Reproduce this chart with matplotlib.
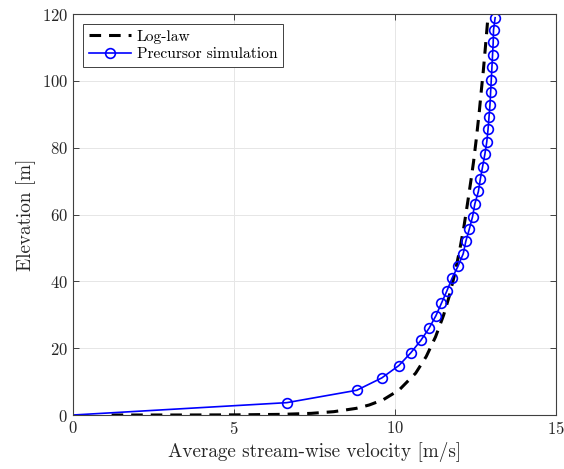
import matplotlib
matplotlib.use("Agg")
import matplotlib.pyplot as plt
import numpy as np

# precursor simulation profile
sim_z = [0.0, 3.7, 7.4, 11.1, 14.8, 18.6, 22.3, 26.0, 29.7, 33.4, 37.1,
         40.9, 44.6, 48.3, 52.0, 55.7, 59.4, 63.2, 66.9, 70.6, 74.3,
         78.0, 81.7, 85.5, 89.2, 92.9, 96.6, 100.3, 104.0, 107.8, 111.5,
         115.2, 118.9]
sim_u = [0.0, 6.64, 8.81, 9.59, 10.12, 10.49, 10.80, 11.06, 11.27, 11.44, 11.61,
         11.77, 11.96, 12.12, 12.20, 12.31, 12.41, 12.48, 12.59, 12.65, 12.72,
         12.79, 12.85, 12.89, 12.92, 12.95, 12.97, 12.99, 13.01, 13.03, 13.05,
         13.06, 13.11]

# log-law profile
log_z = [0.001, 0.01, 0.05, 0.2, 0.5, 1.0, 2.0, 3.0, 4.6, 7.5, 12.5, 17.5,
         23.4, 29.9, 35.4, 42.0, 49.4, 56.3, 63.8, 70.3, 75.8, 83.0, 91.0,
         97.0, 102.7, 109.2, 116.0, 119.5]
log_u = [1.2, 3.5, 5.1, 6.5, 7.4, 8.1, 8.8, 9.2, 9.64, 10.13, 10.64, 10.97,
         11.26, 11.51, 11.68, 11.85, 12.01, 12.14, 12.26, 12.36, 12.44, 12.53, 12.62,
         12.68, 12.74, 12.80, 12.86, 12.89]

plt.rcParams['font.family'] = ['cmr10', 'DejaVu Serif']
plt.rcParams['mathtext.fontset'] = 'cm'
plt.rcParams['axes.formatter.use_mathtext'] = True

fig = plt.figure(figsize=(5.64, 4.69), dpi=100)
ax = fig.add_axes([0.1294, 0.1151, 0.8564, 0.855])

ax.plot(log_u, log_z, '--', color='k', lw=2.2, dashes=(3.8, 2.6), label='Log-law')
ax.plot(sim_u, sim_z, '-', color=(0, 0, 1), lw=1.2, marker='o', ms=7,
        mfc='none', mec=(0, 0, 1), mew=1.2, markevery=list(range(1, len(sim_z))),
        label='Precursor simulation')

ax.set_xlim(0, 15)
ax.set_ylim(0, 120)
ax.set_xticks([0, 5, 10, 15])
ax.set_yticks(range(0, 121, 20))
ax.grid(True, color='#e6e6e6', lw=0.7)
ax.set_axisbelow(True)
for s in ax.spines.values():
    s.set_color('#404040')
    s.set_linewidth(0.8)
ax.tick_params(direction='in', top=True, right=True, length=4, width=0.7,
               colors='#404040', labelcolor='#262626', labelsize=12)

ax.set_xlabel('Average stream-wise velocity [m/s]', fontsize=13.8, color='#262626')
ax.set_ylabel('Elevation [m]', fontsize=13.8, color='#262626')

leg = ax.legend(loc='upper left', fontsize=11.2, fancybox=False, framealpha=1,
                edgecolor='#404040', borderaxespad=0.65, handlelength=2.7,
                handletextpad=0.4, labelspacing=0.25, borderpad=0.35)
leg.get_frame().set_linewidth(0.7)

fig.savefig('out.png', dpi=100)
